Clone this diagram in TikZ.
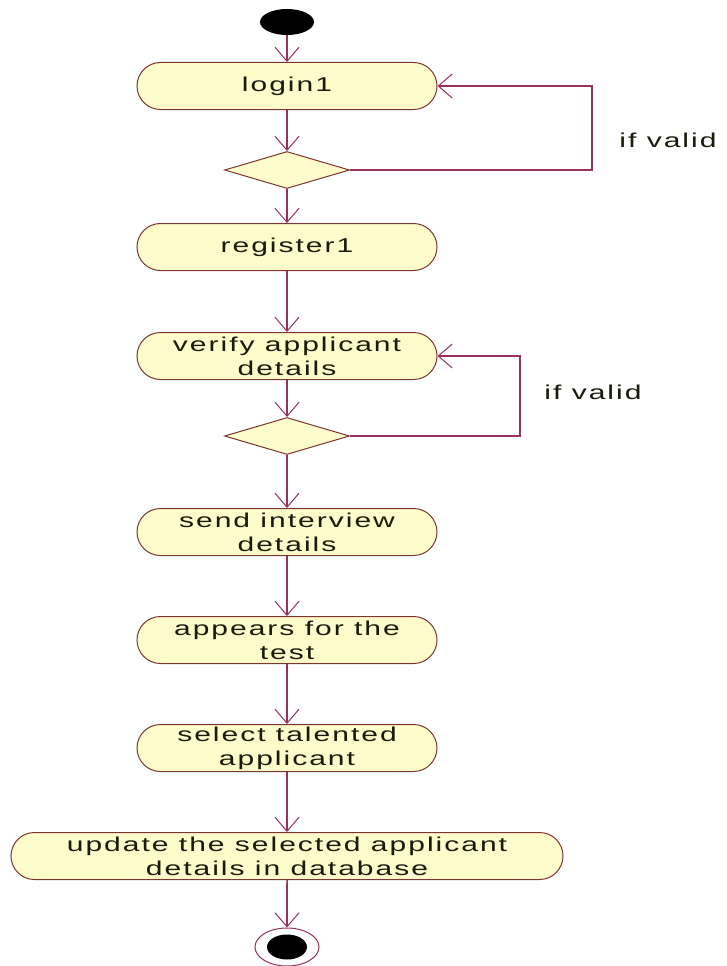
\documentclass[tikz,border=0pt]{standalone}
\usepackage{fontspec}
\newfontfamily\diagfont[FakeStretch=1.5,LetterSpace=10]{Liberation Sans}
\usetikzlibrary{shapes.geometric,shapes.misc,arrows.meta}
\definecolor{actfill}{HTML}{FFFCCB}
\definecolor{actline}{HTML}{7E3430}
\definecolor{flow}{HTML}{983060}
\definecolor{ink}{HTML}{1A1A0A}
\begin{document}
\begin{tikzpicture}[x=1pt,y=-1pt,
  activity/.style={rounded rectangle, draw=actline, fill=actfill, line width=1pt,
    minimum width=300pt, minimum height=47pt, inner sep=0pt, align=center,
    font={\diagfont\fontsize{20}{24}\selectfont}, text=ink},
  decision/.style={diamond, draw=actline, fill=actfill, line width=1pt,
    minimum width=125pt, minimum height=37pt, inner sep=0pt},
  flowline/.style={draw=flow, line width=1.6pt,
    -{Straight Barb[length=14pt,width=24pt,line width=1pt]}},
  loopline/.style={draw=flow, line width=1.2pt,
    -{Straight Barb[length=14pt,width=24pt,line width=1pt]}},
  guard/.style={font={\diagfont\fontsize{20}{24}\selectfont}, text=ink}]

\fill[white] (0,0) rectangle (727,966);
\useasboundingbox (0,0) rectangle (727,966);

% activity nodes
\node[ellipse, fill=black, minimum width=54pt, minimum height=26pt, inner sep=0pt] (start) at (287,22) {};
\node[activity] (login) at (287,86) {login1};
\node[decision] (d1) at (287,170) {};
\node[activity] (reg) at (287,247) {register1};
\node[activity] (verify) at (287,356) {verify applicant\\details};
\node[decision] (d2) at (287,436) {};
\node[activity] (send) at (287,532) {send interview\\details};
\node[activity] (appear) at (287,640) {appears for the\\test};
\node[activity] (select) at (287,748) {select talented\\applicant};
\node[activity, minimum width=552pt] (update) at (287,856) {update the selected applicant\\details in database};
\node[ellipse, draw=flow, fill=white, line width=1pt, minimum width=64pt, minimum height=38pt, inner sep=0pt] (stop) at (287,947) {};
\node[ellipse, fill=black, minimum width=40pt, minimum height=25pt, inner sep=0pt] (stopdot) at (stop.center) {};

% main flow
\draw[flowline] (start) -- (login);
\draw[flowline] (login) -- (d1);
\draw[flowline] (d1) -- (reg);
\draw[flowline] (reg) -- (verify);
\draw[flowline] (verify) -- (d2);
\draw[flowline] (d2) -- (send);
\draw[flowline] (send) -- (appear);
\draw[flowline] (appear) -- (select);
\draw[flowline] (select) -- (update);
\draw[flowline] (update) -- (stop);

% guarded loops back
\coordinate (c1) at (592,170);
\coordinate (c2) at (520,436);
\draw[loopline] (d1.east) -- (c1) |- (login.east);
\draw[loopline] (d2.east) -- (c2) |- (verify.east);

\node[guard] (g1) at (668,140) {if valid};
\node[guard] (g2) at (593,392) {if valid};
\end{tikzpicture}
\end{document}
